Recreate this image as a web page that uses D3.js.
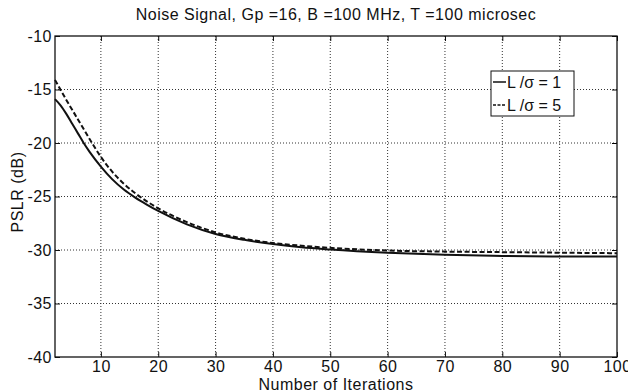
<!DOCTYPE html>
<html>
<head>
<meta charset="utf-8">
<script src="https://cdn.jsdelivr.net/npm/d3@7"></script>
<style>
  body { margin: 0; background: #fff; }
  text { font-family: "Liberation Sans", Arial, Helvetica, sans-serif; fill: #111; }
</style>
</head>
<body>
<div id="chart"></div>
<script>
// Data
const iterations = [2, 3, 4, 5, 6, 7, 8, 10, 12, 14, 16, 18, 20, 25, 30, 35, 40, 45, 50, 60, 70, 80, 90, 100];
const pslrL1 = [-15.9, -16.5, -17.3, -18.2, -19.1, -20.0, -20.8, -22.2, -23.4, -24.35, -25.1, -25.75, -26.35,
                -27.6, -28.5, -29.05, -29.45, -29.75, -29.95, -30.25, -30.45, -30.55, -30.6, -30.6];
const pslrL5 = [-14.1, -15.05, -16.0, -16.9, -17.8, -18.7, -19.6, -21.3, -22.7, -23.8, -24.7, -25.45, -26.1,
                -27.4, -28.35, -28.95, -29.35, -29.6, -29.8, -30.05, -30.15, -30.2, -30.25, -30.3];
const xTicks = [10, 20, 30, 40, 50, 60, 70, 80, 90, 100];
const yTicks = [-40, -35, -30, -25, -20, -15, -10];
const seriesNames = ['L /\u03c3 = 1', 'L /\u03c3 = 5'];

const margin = { top: 36, right: 11, bottom: 35, left: 55 };
const width = 628 - margin.left - margin.right;
const height = 392 - margin.top - margin.bottom;
const fontSize = 16;

const svg = d3.select('#chart')
  .append('svg')
  .attr('width', 628)
  .attr('height', 392);

const g = svg.append('g')
  .attr('transform', `translate(${margin.left}, ${margin.top})`);

// Scales
const xScale = d3.scaleLinear().domain([2, 100]).range([0, width]);
const yScale = d3.scaleLinear().domain([-40, -10]).range([height, 0]);

// Grid (dotted, MATLAB style)
g.append('g')
  .selectAll('line')
  .data(xTicks.filter(d => d < 100))
  .enter()
  .append('line')
  .attr('x1', d => xScale(d)).attr('x2', d => xScale(d))
  .attr('y1', 0).attr('y2', height)
  .attr('stroke', '#333').attr('stroke-width', 1)
  .attr('stroke-dasharray', '1,2');

g.append('g')
  .selectAll('line')
  .data(yTicks.filter(d => d > -40 && d < -10))
  .enter()
  .append('line')
  .attr('x1', 0).attr('x2', width)
  .attr('y1', d => yScale(d)).attr('y2', d => yScale(d))
  .attr('stroke', '#333').attr('stroke-width', 1)
  .attr('stroke-dasharray', '1,2');

// Axes
const xAxis = d3.axisBottom(xScale).tickValues(xTicks).tickSizeInner(-5).tickSizeOuter(0)
  .tickPadding(4).tickFormat(d => String(d));
const yAxis = d3.axisLeft(yScale).tickValues(yTicks).tickSizeInner(-5).tickSizeOuter(0)
  .tickPadding(3).tickFormat(d => String(d));

const gx = g.append('g')
  .attr('transform', `translate(0, ${height})`)
  .call(xAxis);

const gy = g.append('g')
  .call(yAxis);

[gx, gy].forEach(a => {
  a.select('.domain').remove();
  a.selectAll('line').attr('stroke', '#111');
  a.selectAll('text')
    .style('font-size', fontSize + 'px')
    .style('letter-spacing', '0.5px')
    .attr('fill', '#111');
});

// Top and right ticks
g.append('g')
  .call(d3.axisTop(xScale).tickValues(xTicks).tickSizeInner(-5).tickSizeOuter(0).tickFormat(''))
  .call(a => a.select('.domain').remove());
g.append('g')
  .attr('transform', `translate(${width}, 0)`)
  .call(d3.axisRight(yScale).tickValues(yTicks).tickSizeInner(-5).tickSizeOuter(0).tickFormat(''))
  .call(a => a.select('.domain').remove());

// Box
g.append('rect')
  .attr('x', 0).attr('y', 0)
  .attr('width', width).attr('height', height)
  .attr('fill', 'none')
  .attr('stroke', '#111')
  .attr('stroke-width', 1.3);

// Lines
const line = values => d3.line()
  .x((d, i) => xScale(iterations[i]))
  .y(d => yScale(d))
  .curve(d3.curveMonotoneX)(values);

g.append('path')
  .attr('d', line(pslrL1))
  .attr('fill', 'none')
  .attr('stroke', '#111')
  .attr('stroke-width', 2);

g.append('path')
  .attr('d', line(pslrL5))
  .attr('fill', 'none')
  .attr('stroke', '#111')
  .attr('stroke-width', 2)
  .attr('stroke-dasharray', '5,2.5');

// Title and labels
svg.append('text')
  .attr('x', margin.left + width / 2)
  .attr('y', 20)
  .attr('text-anchor', 'middle')
  .style('font-size', fontSize + 'px')
  .style('letter-spacing', '0.5px')
  .text('Noise Signal, Gp =16, B =100 MHz, T =100 microsec');

svg.append('text')
  .attr('x', margin.left + width / 2)
  .attr('y', 390)
  .attr('text-anchor', 'middle')
  .style('font-size', fontSize + 'px')
  .style('letter-spacing', '0.5px')
  .text('Number of Iterations');

svg.append('text')
  .attr('transform', `translate(23, 192) rotate(-90)`)
  .attr('text-anchor', 'middle')
  .style('font-size', fontSize + 'px')
  .style('letter-spacing', '0.5px')
  .text('PSLR (dB)');

// Legend
const legend = g.append('g')
  .attr('transform', `translate(${491 - margin.left}, ${71 - margin.top})`);

legend.append('rect')
  .attr('width', 83)
  .attr('height', 45)
  .attr('fill', '#fff')
  .attr('stroke', '#111')
  .attr('stroke-width', 1);

const legendRows = legend.selectAll('.row')
  .data(seriesNames)
  .enter()
  .append('g')
  .attr('class', 'row')
  .attr('transform', (d, i) => `translate(0, ${11 + i * 23})`);

legendRows.append('line')
  .attr('x1', 2).attr('x2', 15)
  .attr('y1', 0).attr('y2', 0)
  .attr('stroke', '#111')
  .attr('stroke-width', 1.5)
  .attr('stroke-dasharray', (d, i) => i === 1 ? '3,1.5' : null);

legendRows.append('text')
  .attr('x', 16)
  .attr('y', 6)
  .style('font-size', fontSize + 'px')
  .text(d => d);
</script>
</body>
</html>
